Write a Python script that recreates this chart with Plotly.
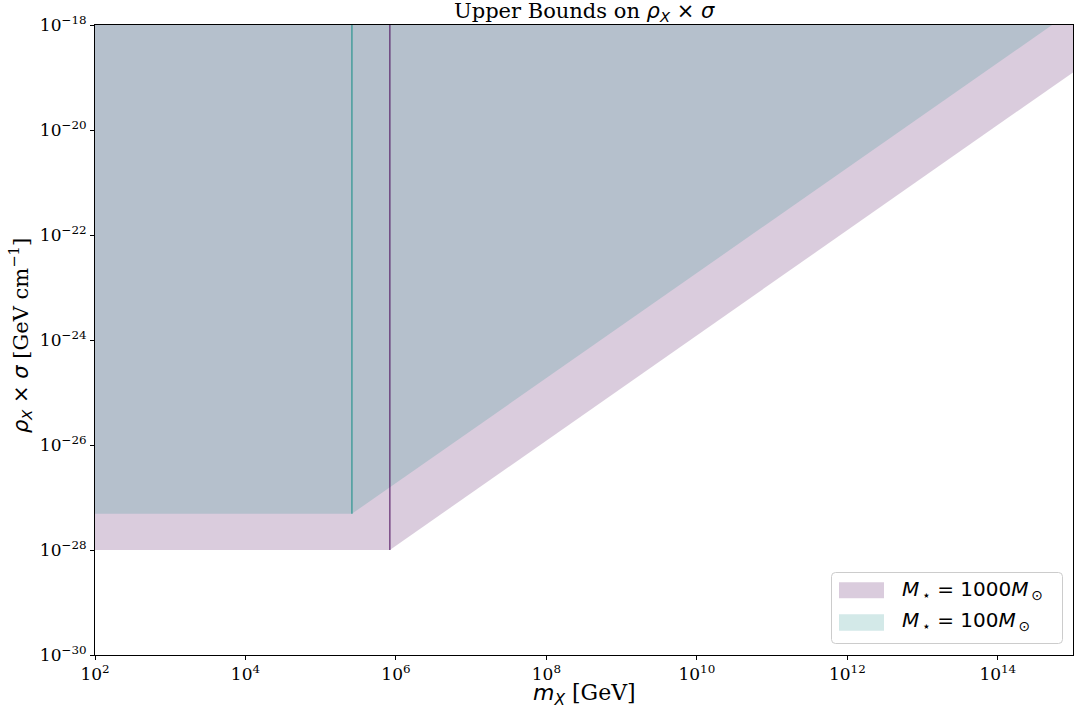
import plotly.graph_objects as go

# ---- data ----
mass_1000 = [1e2, 8.3e5, 1e15]          # m_X [GeV]
bound_1000 = [1e-28, 1e-28, 1.25e-19]   # lower edge of excluded band, M*=1000 Msun
mass_100 = [1e2, 2.6e5, 1e15]
bound_100 = [4.9e-28, 4.9e-28, 1.9e-18] # lower edge, M*=100 Msun
y_top = 1e-18

x_tickvals = [1e2, 1e4, 1e6, 1e8, 1e10, 1e12, 1e14]
x_ticktext = ["10<sup>2</sup>", "10<sup>4</sup>", "10<sup>6</sup>", "10<sup>8</sup>",
              "10<sup>10</sup>", "10<sup>12</sup>", "10<sup>14</sup>"]
y_tickvals = [1e-30, 1e-28, 1e-26, 1e-24, 1e-22, 1e-20, 1e-18]
y_ticktext = ["10<sup>−30</sup>", "10<sup>−28</sup>", "10<sup>−26</sup>", "10<sup>−24</sup>",
              "10<sup>−22</sup>", "10<sup>−20</sup>", "10<sup>−18</sup>"]

labels = ["<i>M</i><sub>\u2009⋆</sub> = 1000<i>M</i><sub>\u2009⊙</sub>",
          "<i>M</i><sub>\u2009⋆</sub> = 100<i>M</i><sub>\u2009⊙</sub>"]
fill_colors = ["rgba(68,1,84,0.2)", "rgba(33,145,140,0.2)"]
line_colors = ["rgba(68,1,84,0.65)", "rgba(33,145,140,0.75)"]

SERIF = "DejaVu Serif"
SANS = "DejaVu Sans"

W, H = 1077, 713
ML, MR, MT, MB = 95, 4, 25, 58
PW, PH = W - ML - MR, H - MT - MB


def px2paper(px, py):
    return (px - ML) / PW, (H - MB - py) / PH


fig = go.Figure()

for mass, bound, lab, fc in [(mass_1000, bound_1000, labels[0], fill_colors[0]),
                             (mass_100, bound_100, labels[1], fill_colors[1])]:
    xs = list(mass) + list(reversed(mass))
    ys = list(bound) + [y_top] * len(mass)
    fig.add_trace(go.Scatter(x=xs, y=ys, fill="toself", fillcolor=fc,
                             mode="none", name=lab, hoverinfo="skip", showlegend=False))

# vertical edge lines at the knee of each band
for mass, bound, lc in [(mass_100, bound_100, line_colors[1]),
                        (mass_1000, bound_1000, line_colors[0])]:
    fig.add_trace(go.Scatter(x=[mass[1], mass[1]], y=[bound[1], y_top],
                             mode="lines", line=dict(color=lc, width=1.5),
                             showlegend=False, hoverinfo="skip"))

axis_common = dict(
    type="log", showgrid=False, zeroline=False, automargin=False,
    showline=True, linecolor="black", linewidth=1, mirror=True,
    ticks="outside", ticklen=4, tickwidth=1, tickcolor="black",
    tickfont=dict(family=SERIF, size=17, color="black"),
)

fig.update_xaxes(**axis_common, range=[2, 15], tickvals=x_tickvals, ticktext=x_ticktext)
fig.update_yaxes(**axis_common, range=[-30, -18], tickvals=y_tickvals, ticktext=y_ticktext)

annotations = []
# title and axis titles
tx, ty = px2paper(584, 12)
annotations.append(dict(
    text=f'Upper Bounds on <span style="font-family:{SANS}"><i>ρ</i><sub><i>X</i></sub> × <i>σ</i></span>',
    x=tx, y=ty, xref="paper", yref="paper", xanchor="center", yanchor="middle",
    showarrow=False, font=dict(family=SERIF, size=21, color="black")))
tx, ty = px2paper(584, 694)
annotations.append(dict(
    text=f'<span style="font-family:{SANS}"><i>m</i><sub><i>X</i></sub></span> [GeV]',
    x=tx, y=ty, xref="paper", yref="paper", xanchor="center", yanchor="middle",
    showarrow=False, font=dict(family=SERIF, size=22, color="black")))
tx, ty = px2paper(20, 336)
annotations.append(dict(
    text=f'<span style="font-family:{SANS}"><i>ρ</i><sub><i>X</i></sub> × <i>σ</i></span> [GeV cm<sup>−1</sup>]',
    x=tx, y=ty, xref="paper", yref="paper", xanchor="center", yanchor="middle", textangle=-90,
    showarrow=False, font=dict(family=SERIF, size=21, color="black")))

# manual legend (matplotlib-style patches)
shapes = []
bx0, by0 = px2paper(831.5, 643.5)
bx1, by1 = px2paper(1062.5, 572.5)
rx, ry = 4 / PW, 4 / PH
path = (f"M {bx0+rx},{by0} L {bx1-rx},{by0} Q {bx1},{by0} {bx1},{by0+ry} "
        f"L {bx1},{by1-ry} Q {bx1},{by1} {bx1-rx},{by1} L {bx0+rx},{by1} "
        f"Q {bx0},{by1} {bx0},{by1-ry} L {bx0},{by0+ry} Q {bx0},{by0} {bx0+rx},{by0} Z")
shapes.append(dict(type="path", path=path, xref="paper", yref="paper",
                   fillcolor="rgba(255,255,255,0.8)", line=dict(color="#cccccc", width=1)))
patch_rows = [(582.3, 598.3, 590), (614.3, 630.7, 621)]
for (y0p, y1p, yc), lab, fc in zip(patch_rows, labels, fill_colors):
    x0, y0 = px2paper(839, y1p)
    x1, y1 = px2paper(884, y0p)
    shapes.append(dict(type="rect", xref="paper", yref="paper", x0=x0, x1=x1, y0=y0, y1=y1,
                       fillcolor=fc, line=dict(width=0)))
    lx, ly = px2paper(900, yc)
    annotations.append(dict(text=lab, x=lx, y=ly, xref="paper", yref="paper",
                            xanchor="left", yanchor="middle", showarrow=False,
                            font=dict(family=SANS, size=20, color="black")))

fig.update_layout(
    width=W, height=H,
    margin=dict(l=ML, r=MR, t=MT, b=MB, autoexpand=False),
    plot_bgcolor="white", paper_bgcolor="white",
    showlegend=False,
    annotations=annotations, shapes=shapes,
)

fig.write_html("out.html", config={"displayModeBar": False},
               post_script="document.body.style.margin='0px';document.body.style.overflow='hidden';")
